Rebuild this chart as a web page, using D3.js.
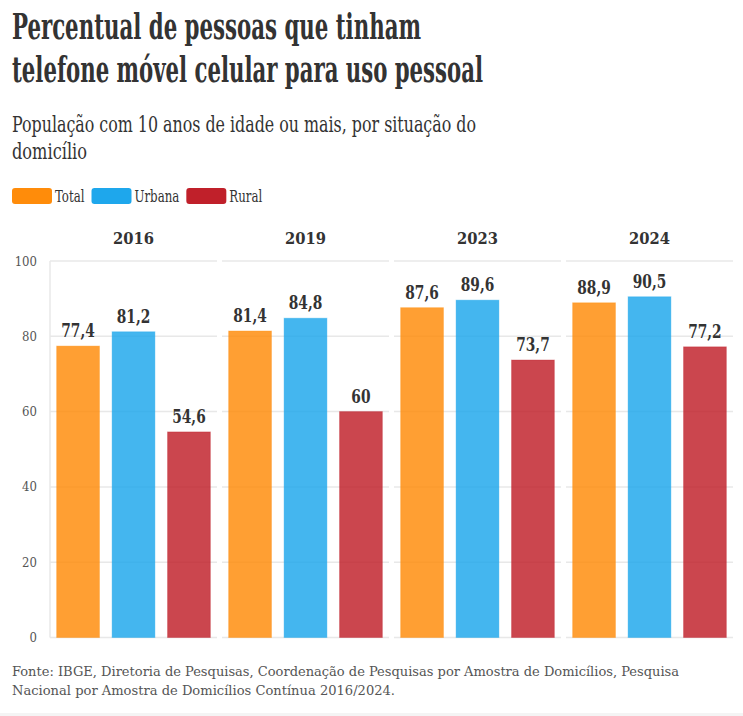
<!DOCTYPE html>
<html><head><meta charset="utf-8">
<script src="https://cdn.jsdelivr.net/npm/d3@7"></script>
<style>
html,body{margin:0;padding:0;background:#fff;}
svg{display:block;}
</style></head>
<body>
<script>
const years = ["2016", "2019", "2023", "2024"];
const seriesNames = ["Total", "Urbana", "Rural"];
const totalValues = [77.4, 81.4, 87.6, 88.9];
const urbanaValues = [81.2, 84.8, 89.6, 90.5];
const ruralValues = [54.6, 60, 73.7, 77.2];
const yTicks = [0, 20, 40, 60, 80, 100];
const colors = ["#ff8c0a", "#1ea7ec", "#c0202a"];
const titleLines = ["Percentual de pessoas que tinham", "telefone móvel celular para uso pessoal"];
const subtitleLines = ["População com 10 anos de idade ou mais, por situação do", "domicílio"];
const sourceLines = ["Fonte: IBGE, Diretoria de Pesquisas, Coordenação de Pesquisas por Amostra de Domicílios, Pesquisa", "Nacional por Amostra de Domicílios Contínua 2016/2024."];

const seriesValues = [totalValues, urbanaValues, ruralValues];
const W = 743, H = 716;
const FONT = "'DejaVu Serif Condensed','DejaVu Serif',serif";
const svg = d3.select("body").append("svg").attr("width", W).attr("height", H);

const fmt = d3.formatLocale({decimal: ",", thousands: ".", grouping: [3], currency: ["R$", ""]}).format("~f");

function fitText(sel, target) {
  sel.each(function() {
    const w = this.getComputedTextLength();
    if (w > 0) d3.select(this).attr("textLength", target).attr("lengthAdjust", "spacingAndGlyphs");
  });
}

// Title
const titleW = [409, 471];
titleLines.forEach((t, i) => {
  svg.append("text").attr("x", 12).attr("y", 39 + i * 43)
    .attr("font-family", FONT).attr("font-weight", "bold").attr("font-size", 35)
    .attr("fill", "#333").text(t).call(fitText, titleW[i]);
});
const subW = [464, 75];
subtitleLines.forEach((t, i) => {
  svg.append("text").attr("x", 12).attr("y", 132 + i * 27)
    .attr("font-family", FONT).attr("font-size", 23)
    .attr("fill", "#333").text(t).call(fitText, subW[i]);
});

// Legend
let lx = 12;
seriesNames.forEach((s, i) => {
  svg.append("rect").attr("x", lx).attr("y", 188).attr("width", 40).attr("height", 16)
    .attr("rx", 3).attr("fill", colors[i]);
  const t = svg.append("text").attr("x", lx + 43).attr("y", 202)
    .attr("font-family", FONT).attr("font-size", 16).attr("fill", "#333").text(s);
  const w = t.node().getComputedTextLength() * 0.82;
  t.attr("textLength", w).attr("lengthAdjust", "spacingAndGlyphs");
  lx = lx + 43 + w + 7;
});

// Scales
const panelX = d3.scaleBand().domain(years).range([50, 733]).paddingInner(0.029);
const barX = d3.scaleBand().domain(seriesNames).range([0, panelX.bandwidth()]).paddingInner(0.228).paddingOuter(0.12);
const y = d3.scaleLinear().domain([0, 100]).range([637.5, 261]);

// Y axis labels
svg.append("g").selectAll("text").data(yTicks).join("text")
  .attr("x", 37).attr("y", d => y(d)).attr("dy", "0.35em")
  .attr("text-anchor", "end").attr("font-family", FONT).attr("font-size", 13)
  .attr("fill", "#555").text(d => d);

// y axis line
svg.append("line").attr("x1", panelX(years[0])).attr("x2", panelX(years[0]))
  .attr("y1", y(100)).attr("y2", y(0)).attr("stroke", "#e8e8e8").attr("stroke-width", 1.5);

years.forEach((yr, yi) => {
  const g = svg.append("g").attr("transform", `translate(${panelX(yr)},0)`);
  g.selectAll("line.grid").data(yTicks).join("line").attr("class", "grid")
    .attr("x1", 0).attr("x2", panelX.bandwidth())
    .attr("y1", d => y(d)).attr("y2", d => y(d))
    .attr("stroke", "#e8e8e8").attr("stroke-width", 1.5);
  g.append("text").attr("x", panelX.bandwidth() / 2).attr("y", 244)
    .attr("text-anchor", "middle").attr("font-family", FONT).attr("font-weight", "bold")
    .attr("font-size", 17).attr("fill", "#333").text(yr)
    .call(fitText, 41);
  const data = seriesNames.map((s, si) => ({s, si, v: seriesValues[si][yi]}));
  g.selectAll("rect.bar").data(data).join("rect").attr("class", "bar")
    .attr("x", d => barX(d.s)).attr("width", barX.bandwidth())
    .attr("y", d => y(d.v)).attr("height", d => y(0) - y(d.v))
    .attr("fill", d => colors[d.si]).attr("fill-opacity", 0.83)
    .attr("stroke", d => colors[d.si]).attr("stroke-opacity", 0.35).attr("stroke-width", 1);
  g.selectAll("text.val").data(data).join("text").attr("class", "val")
    .attr("x", d => barX(d.s) + barX.bandwidth() / 2).attr("y", d => y(d.v) - 9)
    .attr("text-anchor", "middle").attr("font-family", FONT).attr("font-weight", "bold")
    .attr("font-size", 18).attr("fill", "#333").text(d => fmt(d.v))
    .each(function() {
      const w = this.getComputedTextLength() * 0.85;
      d3.select(this).attr("textLength", w).attr("lengthAdjust", "spacingAndGlyphs");
    });
});

// Source
const srcW = [667, 383];
sourceLines.forEach((t, i) => {
  svg.append("text").attr("x", 12).attr("y", 676 + i * 19)
    .attr("font-family", FONT).attr("font-size", 13).attr("fill", "#555")
    .text(t).call(fitText, srcW[i]);
});
svg.append("rect").attr("x", 0).attr("y", 713).attr("width", W).attr("height", 3).attr("fill", "#f4f4f4");
</script>
</body></html>
